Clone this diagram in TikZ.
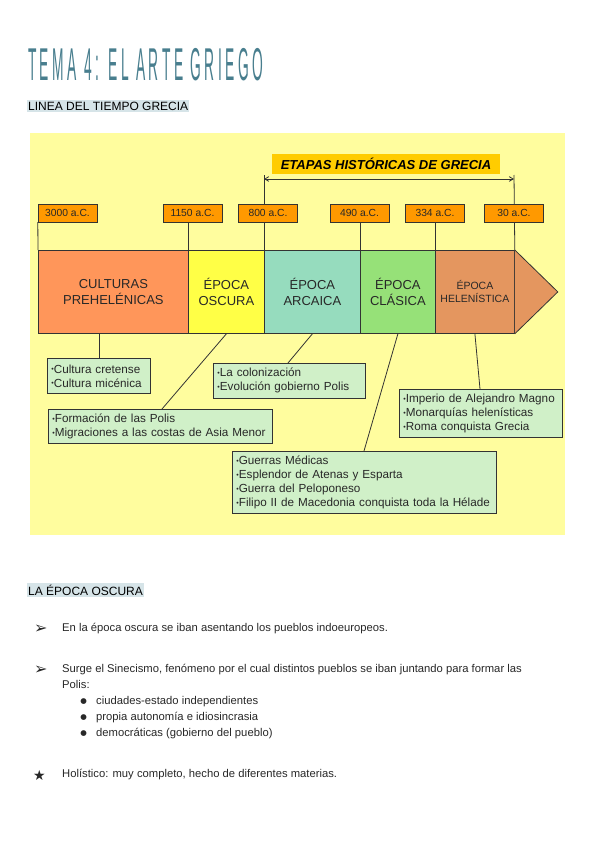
\documentclass[tikz,border=0pt]{standalone}
\usepackage{fontspec}
\setmainfont{Liberation Sans}
\newfontfamily\symf{DejaVu Sans}
\newfontfamily\ttlf{Liberation Sans}[LetterSpace=25]
\usepackage{tikz}
\usetikzlibrary{arrows,positioning,calc}
\definecolor{ttl}{RGB}{72,126,142}
\definecolor{hlc}{RGB}{214,228,232}
\definecolor{bgy}{RGB}{255,253,158}
\definecolor{dtc}{RGB}{255,153,0}
\definecolor{etc}{RGB}{255,204,0}
\definecolor{cpre}{RGB}{255,150,90}
\definecolor{cosc}{RGB}{255,255,70}
\definecolor{carc}{RGB}{150,220,190}
\definecolor{ccla}{RGB}{150,225,120}
\definecolor{chel}{RGB}{228,150,95}
\definecolor{nbc}{RGB}{208,240,200}
\definecolor{txc}{RGB}{40,40,40}
\newcommand{\bt}{\scalebox{0.6}{\raisebox{0.3ex}{•}}}
\tikzset{
  dt/.style={rectangle,draw=black!80,fill=dtc,minimum width=59,minimum height=18,inner sep=0pt,font=\fontsize{10.3}{12}\selectfont,text=txc},
  seg/.style={rectangle,draw=black!80,line width=0.8pt,minimum height=83,inner sep=0pt,align=center,anchor=north west,font=\fontsize{13}{16}\selectfont,text=txc},
  nb/.style={rectangle,draw=black!80,line width=0.8pt,fill=nbc,anchor=north west,align=left,inner xsep=4pt,inner ysep=0pt,font=\fontsize{11.7}{14}\selectfont,text=txc},
  hl/.style={fill=hlc,inner xsep=1pt,inner ysep=1.5pt,anchor=west,font=\fontsize{12}{13}\selectfont,text=black},
  txt/.style={inner sep=0pt,anchor=west,text height=8pt,text depth=2.5pt,font=\fontsize{11.25}{13}\selectfont,text=txc},
  mk/.style={inner sep=0pt,anchor=west,font=\symf\fontsize{16}{16}\selectfont,text=txc},
  lnk/.style={draw=black!80,line width=0.8pt},
  arr/.style={<->,>=angle 60,line width=0.8pt,draw=black!80},
}
\begin{document}
\begin{tikzpicture}[x=1pt,y=-1pt,node distance=5pt]
  \useasboundingbox[fill=white] (0,0) rectangle (600,848);
  \node[inner sep=0pt,anchor=west,xscale=0.3,text=ttl,font=\ttlf\fontsize{46}{46}\selectfont] (t) at (28,65) {TEMA 4: EL ARTE GRIEGO};
  \node[hl] (h1) at (27,106) {LINEA DEL TIEMPO GRECIA};

  \fill[bgy] (30,133) rectangle (565,535);
  \node[fill=etc,minimum width=228,minimum height=20,inner sep=0pt,font=\fontsize{13}{15}\selectfont\bfseries\itshape] (et) at (386,164) {ETAPAS HISTÓRICAS DE GRECIA};

  \node[seg,fill=cpre,minimum width=150] (cult) at (38,250) {CULTURAS\\PREHELÉNICAS};
  \node[seg,fill=cosc,minimum width=76] (osc) at (188,250) {ÉPOCA\\OSCURA};
  \node[seg,fill=carc,minimum width=96] (arc) at (264,250) {ÉPOCA\\ARCAICA};
  \node[seg,fill=ccla,minimum width=75] (cla) at (360,250) {ÉPOCA\\CLÁSICA};
  \node[seg,fill=chel,minimum width=79,font=\fontsize{10.5}{13}\selectfont] (hel) at (435,250) {ÉPOCA\\HELENÍSTICA};
  \draw[lnk,fill=chel] (hel.north east) -- ($(hel.east)+(43,0)$) -- (hel.south east);

  \coordinate (al) at (264,179);
  \coordinate (ar) at (514,179);
  \draw[lnk] (arc.north west) -- ($(al)+(0,-4)$);
  \draw[lnk] (hel.north east) -- ($(ar)+(0,-4)$);
  \draw[arr] (al) -- (ar);

  \node[dt] (d1) at (67.5,213) {3000 a.C.};
  \node[dt] (d2) at (192.5,213) {1150 a.C.};
  \node[dt] (d3) at (268,213) {800 a.C.};
  \node[dt] (d4) at (359.5,213) {490 a.C.};
  \node[dt] (d5) at (435,213) {334 a.C.};
  \node[dt] (d6) at (514,213) {30 a.C.};
  \draw[lnk] (cult.north west) -- (d1.south west);
  \draw[lnk] (osc.north west) -- (osc.north west |- d2.south);
  \draw[lnk] (cla.north west) -- (cla.north west |- d4.south);
  \draw[lnk] (hel.north west) -- (hel.north west |- d5.south);

  \node[nb,text width=95,minimum height=35] (na) at (47,358) {\bt Cultura cretense\\\bt Cultura micénica};
  \node[nb,text width=144,minimum height=35] (nbx) at (213,363) {\bt La colonización\\\bt Evolución gobierno Polis};
  \node[nb,text width=216,minimum height=34] (nc) at (48,409) {\bt Formación de las Polis\\\bt Migraciones a las costas de Asia Menor};
  \node[nb,text width=155,minimum height=48] (nd) at (399,389) {\bt Imperio de Alejandro Magno\\\bt Monarquías helenísticas\\\bt Roma conquista Grecia};
  \node[nb,text width=256,minimum height=62] (ne) at (232,451) {\bt Guerras Médicas\\\bt Esplendor de Atenas y Esparta\\\bt Guerra del Peloponeso\\\bt Filipo II de Macedonia conquista toda la Hélade};
  \draw[lnk] (cult.south -| na.north) -- (na.north);
  \draw[lnk] (arc.south) -- ([xshift=75pt]nbx.north west);
  \draw[lnk] (osc.south) -- ([xshift=114pt]nc.north west);
  \draw[lnk] (hel.south) -- ([xshift=81pt]nd.north west);
  \draw[lnk] (cla.south) -- ([xshift=132pt]ne.north west);

  \node[hl] (h2) at (27,590) {LA ÉPOCA OSCURA};
  \node[txt] (p1) at (62,629) {En la época oscura se iban asentando los pueblos indoeuropeos.};
  \node[mk] (m1) at (34,629) {➢};
  \node[txt] (p2) at (62,670) {Surge el Sinecismo, fenómeno por el cual distintos pueblos se iban juntando para formar las};
  \node[mk] (m2) at (34,670) {➢};
  \node[txt,below=4.5pt of p2.south west,anchor=north west] (p3) {Polis:};
  \node[txt,below=5.5pt of p3.south west,anchor=north west,xshift=34pt] (i1) {ciudades-estado independientes};
  \node[txt,below=5pt of i1.south west,anchor=north west] (i2) {propia autonomía e idiosincrasia};
  \node[txt,below=5pt of i2.south west,anchor=north west] (i3) {democráticas (gobierno del pueblo)};
  \foreach \i in {i1,i2,i3}
    \node[mk,font=\symf\fontsize{7.5}{8}\selectfont,left=9pt of \i.west,anchor=east] {●};
  \node[txt] (p4) at (62,775) {Holístico: muy completo, hecho de diferentes materias.};
  \node[mk,font=\symf\fontsize{14}{14}\selectfont] (m4) at (33,775) {★};
\end{tikzpicture}
\end{document}
